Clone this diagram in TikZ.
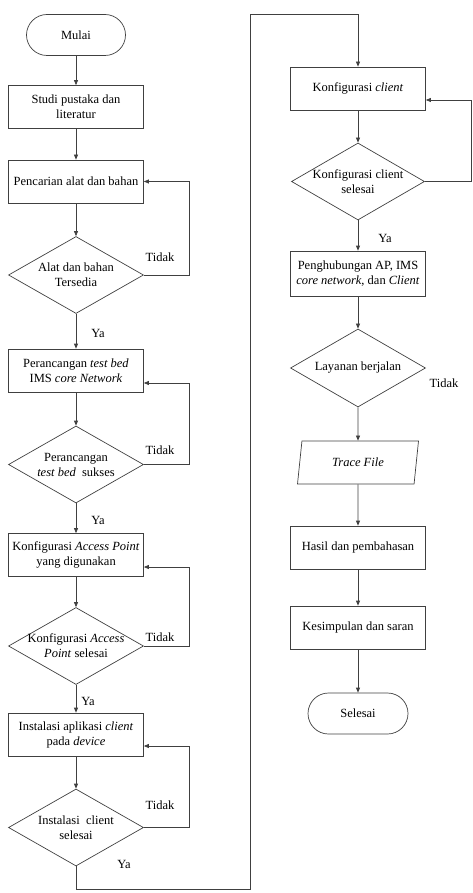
\documentclass[tikz,border=0pt]{standalone}
\usepackage{fontspec}
\setmainfont{Liberation Serif}
\usetikzlibrary{arrows.meta,positioning,shapes.geometric}

\begin{document}
\begin{tikzpicture}[x=1pt,y=-1pt,
		font=\fontsize{12.5}{15}\selectfont,
		garis/.style={draw=black!75,line width=0.7pt},
		proses/.style={garis,rectangle,minimum width=135pt,minimum height=43pt,align=center,inner sep=2pt},
		keputusan/.style={garis,diamond,aspect=1.75,minimum width=135pt,minimum height=77pt,inner sep=-6pt,align=center},
		terminal/.style={garis,rounded corners=20.5pt,minimum width=99pt,minimum height=41pt},
		data/.style={garis,trapezium,trapezium left angle=74,trapezium right angle=106,trapezium stretches body,minimum width=121pt,minimum height=43pt,font=\fontsize{12.5}{15}\selectfont\itshape},
		panah/.style={garis,-{Triangle[length=5pt,width=4pt]}},
		ket/.style={inner sep=0pt}]
		
		\useasboundingbox (0,0) rectangle (473,893);
		
		% kolom kiri
		\node[terminal] (mulai) at (76,35) {Mulai};
		
		\node[proses] (studi) at (76,107)
		{Studi pustaka dan\\literatur};
		
		\node[proses] (cari) at (76,181.5)
		{Pencarian alat dan bahan};
		
		\node[keputusan] (cekalat) at (76,275)
		{Alat dan bahan\\Tersedia};
		
		\node[proses] (rancang) at (76,370.5)
		{Perancangan \textit{test bed}\\IMS \textit{core Network}};
		
		\node[keputusan] (cekrancang) at (76,464.5)
		{Perancangan\\\textit{test bed}\ \ sukses};
		
		\node[proses] (konfap) at (76,555)
		{Konfigurasi \textit{Access Point}\\yang digunakan};
		
		\node[keputusan] (cekap) at (76,646)
		{Konfigurasi \textit{Access}\\\textit{Point} selesai};
		
		\node[proses] (instal) at (76,734.5)
		{Instalasi aplikasi \textit{client}\\pada \textit{device}};
		
		\node[keputusan] (cekinstal) at (76,827.5)
		{Instalasi\ \ client\\selesai};
		
		% kolom kanan
		\node[proses] (konfcl) at (358,88.5)
		{Konfigurasi \textit{client}};
		
		\node[keputusan,minimum width=133pt] (cekcl) at (358,181.5)
		{Konfigurasi client\\selesai};
		
		\node[proses,minimum height=45pt] (hubung) at (358,273.5)
		{Penghubungan AP, IMS\\\textit{core network}, dan \textit{Client}};
		
		\node[keputusan,minimum height=78pt] (layanan) at (358,368)
		{Layanan berjalan};
		
		\node[data] (trace) at (358,462.5)
		{Trace File};
		
		\node[proses] (hasil) at (358,547.5)
		{Hasil dan pembahasan};
		
		\node[proses] (simpul) at (358,627.5)
		{Kesimpulan dan saran};
		
		\node[terminal,minimum width=100pt] (selesai) at (358,713.5)
		{Selesai};
		
		% titik belok
		\coordinate (b1) at (76,889);
		\coordinate (b2) at (250,889);
		\coordinate (b3) at (250,14);
		\coordinate (b4) at (358,14);
		
		% alur utama
		\draw[panah] (mulai) -- (studi);
		\draw[panah] (studi) -- (cari);
		\draw[panah] (cari) -- (cekalat);
		\draw[panah] (cekalat) -- (rancang);
		\draw[panah] (rancang) -- (cekrancang);
		\draw[panah] (cekrancang) -- (konfap);
		\draw[panah] (konfap) -- (cekap);
		\draw[panah] (cekap) -- (instal);
		\draw[panah] (instal) -- (cekinstal);
		\draw[panah] (cekinstal.south) -- (b1) -- (b2) -- (b3) -- (b4) -- (konfcl.north);
		\draw[panah] (konfcl) -- (cekcl);
		\draw[panah] (cekcl) -- (hubung);
		\draw[panah] (hubung) -- (layanan);
		\draw[panah] (layanan) -- (trace);
		\draw[panah] (trace) -- (hasil);
		\draw[panah] (hasil) -- (simpul);
		\draw[panah] (simpul) -- (selesai);
		
		% umpan balik
		\draw[panah] (cekalat.east) -- ++(45,0) |- (cari.east);
		\draw[panah] (cekrancang.east) -- ++(45,0) |- ([yshift=-12.5pt]rancang.east);
		\draw[panah] (cekap.east) -- ++(45,0) |- ([yshift=-12pt]konfap.east);
		\draw[panah] (cekinstal.east) -- ++(45,0) |- ([yshift=-11.5pt]instal.east);
		\draw[panah] (cekcl.east) -- (471,181.5) |- ([yshift=-11.5pt]konfcl.east);
		
		% keterangan
		\node[ket] (t1) at (160,257) {Tidak};
		\node[ket] (t2) at (160,450) {Tidak};
		\node[ket] (t3) at (160,637) {Tidak};
		\node[ket] (t4) at (160,805) {Tidak};
		\node[ket] (t5) at (444,383) {Tidak};
		\node[ket] (y1) at (98,333) {Ya};
		\node[ket] (y2) at (98,520) {Ya};
		\node[ket] (y3) at (88,701) {Ya};
		\node[ket] (y4) at (124,864) {Ya};
		\node[ket] (y5) at (385,238) {Ya};
		
	\end{tikzpicture}
\end{document}
